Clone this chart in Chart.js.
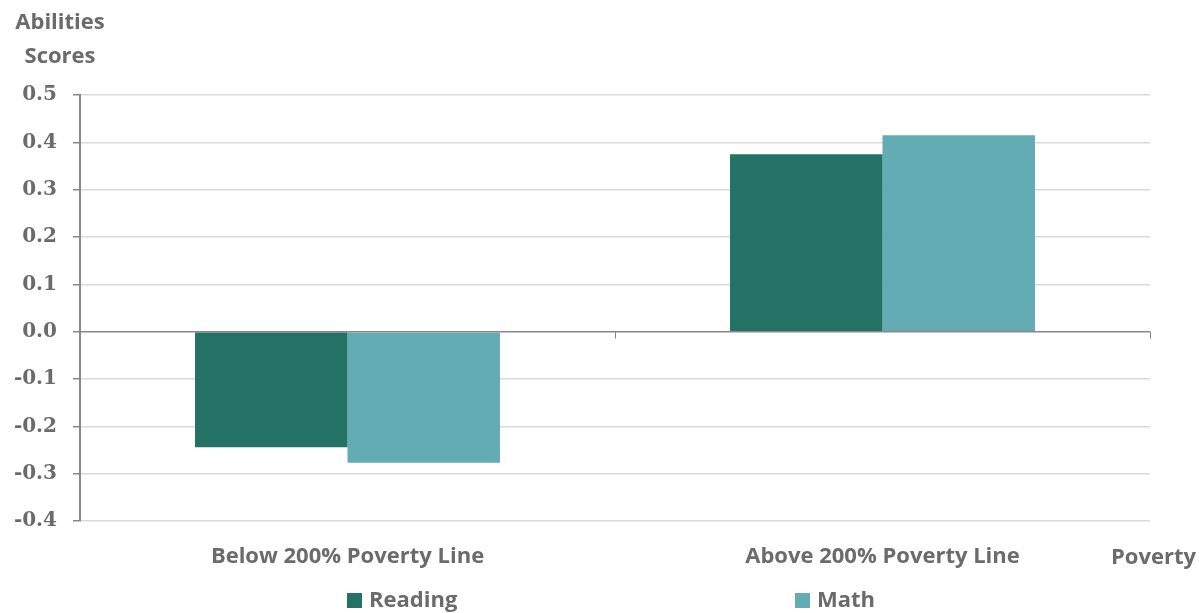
<!DOCTYPE html>
<html><head><meta charset="utf-8">
<script src="https://cdn.jsdelivr.net/npm/chart.js@4/dist/chart.umd.min.js"></script>
<style>html,body{margin:0;padding:0;background:#fff;}#wrap{width:1199px;height:613px;}</style>
</head><body><div id="wrap"><canvas id="c" width="1199" height="613"></canvas></div>
<script>
const categories = ["Below 200% Poverty Line", "Above 200% Poverty Line"];
const seriesNames = ["Reading", "Math"];
const readingValues = [-0.244, 0.375];
const mathValues = [-0.277, 0.415];
const yTitleLines = ["Abilities", "Scores"];
const xTitle = "Poverty";
const yMin = -0.4, yMax = 0.5, yStep = 0.1;

const TXT = '#6b6b6b';
const SANS = "'Open Sans', sans-serif";

const extras = {
  id: 'extras',
  afterDraw(chart) {
    const ctx = chart.ctx, x = chart.scales.x, y = chart.scales.y;
    const y0 = y.getPixelForValue(0);
    ctx.save();
    ctx.strokeStyle = '#888'; ctx.lineWidth = 1;
    const n = categories.length;
    const w = (x.right - x.left) / n;
    for (let i = 1; i <= n; i++) {
      const px = Math.round(x.left + w * i) + 0.5;
      ctx.beginPath(); ctx.moveTo(px, y0); ctx.lineTo(px, y0 + 7); ctx.stroke();
    }
    ctx.fillStyle = TXT;
    ctx.font = "bold 22px " + SANS;
    ctx.textAlign = 'center'; ctx.textBaseline = 'middle';
    ctx.fillText(yTitleLines[0], 60, 23);
    ctx.fillText(yTitleLines[1], 60, 57);
    ctx.textAlign = 'left';
    ctx.fillText(xTitle, 1111, 558);
    const legX = [347, 795];
    chart.data.datasets.forEach((ds, i) => {
      ctx.fillStyle = ds.backgroundColor;
      ctx.fillRect(legX[i], 593, 15, 15);
      ctx.fillStyle = TXT;
      ctx.textAlign = 'left';
      ctx.fillText(ds.label, legX[i] + 22, 601);
    });
    ctx.restore();
  }
};

new Chart(document.getElementById('c'), {
  type: 'bar',
  data: {
    labels: categories,
    datasets: [
      { label: seriesNames[0], data: readingValues, backgroundColor: '#247265' },
      { label: seriesNames[1], data: mathValues, backgroundColor: '#64acb4' }
    ]
  },
  options: {
    responsive: false, animation: false,
    layout: { padding: { top: 95, right: 49, left: 0, bottom: 0 } },
    plugins: { legend: { display: false }, tooltip: { enabled: false } },
    datasets: { bar: { barPercentage: 1, categoryPercentage: 0.57 } },
    scales: {
      x: {
        grid: { display: false },
        border: { display: false },
        ticks: { color: TXT, font: { family: SANS, size: 22, weight: 'bold' }, padding: 15, maxRotation: 0 },
        afterFit(s) { s.height = 92; }
      },
      y: {
        min: yMin, max: yMax,
        afterFit(s) { s.width = 80; },
        ticks: { stepSize: yStep, color: TXT, padding: 16,
          font: { family: "'DejaVu Serif', serif", size: 20, weight: 'bold' },
          callback: v => Number(v).toFixed(1) },
        grid: {
          color: ctx => (Math.abs(ctx.tick.value) < 1e-9 ? '#888888' : '#d9d9d9'),
          lineWidth: 1.5,
          tickLength: 7, tickColor: '#888888', drawTicks: true
        },
        border: { color: '#888888', width: 2 }
      }
    }
  },
  plugins: [extras]
});
</script></body></html>
